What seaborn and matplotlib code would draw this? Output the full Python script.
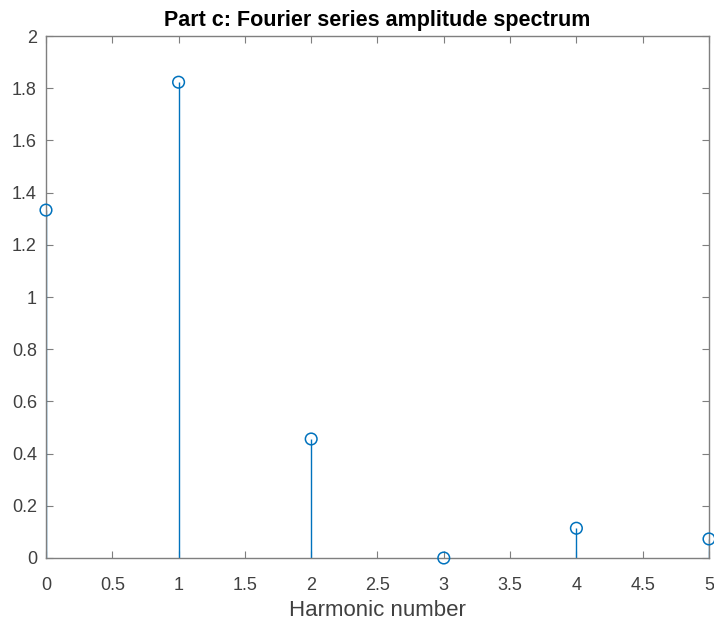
import numpy as np
import pandas as pd
import matplotlib
matplotlib.use("Agg")
import matplotlib.pyplot as plt
import seaborn as sns

# --- data ---
harmonics = [0, 1, 2, 3, 4, 5]
amplitudes = [1.333, 1.823, 0.456, 0.0, 0.114, 0.073]
x_ticks = [0, 0.5, 1, 1.5, 2, 2.5, 3, 3.5, 4, 4.5, 5]
y_ticks = [0, 0.2, 0.4, 0.6, 0.8, 1, 1.2, 1.4, 1.6, 1.8, 2]

sns.set_style("white")
plt.rcParams['font.family'] = ['Liberation Sans', 'DejaVu Sans']

df = pd.DataFrame({'n': harmonics, 'amp': amplitudes})
stem_color = '#0072BD'
axis_gray = '#7f7f7f'
text_gray = '#404040'

fig = plt.figure(figsize=(7.14, 6.22), dpi=100)
ax = fig.add_axes([0.0644, 0.1029, 0.9286, 0.8392])

# stems (MATLAB-like stem plot)
ax.vlines(df['n'], 0, df['amp'], color=stem_color, lw=1.0, zorder=2)
sns.scatterplot(data=df, x='n', y='amp', ax=ax, marker='o', s=70,
                facecolors='none', edgecolor=stem_color, linewidth=1.1,
                zorder=3, clip_on=False)

ax.set_xlim(0, 5)
ax.set_ylim(0, 2)
ax.set_xticks(x_ticks)
ax.set_xticklabels([f'{t:g}' for t in x_ticks])
ax.set_yticks(y_ticks)
ax.set_yticklabels([f'{t:g}' for t in y_ticks])

ax.tick_params(direction='in', length=5, width=0.8, color=axis_gray,
               labelsize=13, labelcolor=text_gray, top=True, right=True,
               bottom=True, left=True)
ax.tick_params(axis='x', pad=14)
ax.tick_params(axis='y', pad=6.5)
for s in ax.spines.values():
    s.set_color(axis_gray)
    s.set_linewidth(1.0)

ax.set_xlabel('Harmonic number', fontsize=16, color=text_gray, labelpad=4)
ax.set_ylabel('')
ax.set_title('Part c: Fourier series amplitude spectrum', fontsize=15.5,
             fontweight='bold', color='black', pad=7)

fig.savefig('out.png', dpi=100)
